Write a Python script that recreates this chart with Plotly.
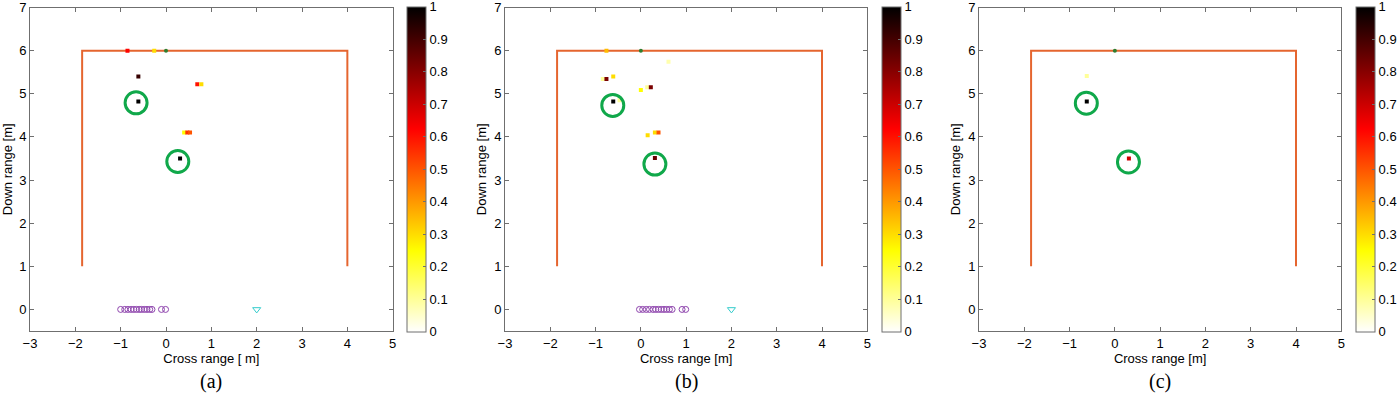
import plotly.graph_objects as go

# ---------------- data ----------------
wall_x = [-1.85, -1.85, 4.0, 4.0]
wall_y = [1.0, 6.0, 6.0, 1.0]

sensor_x = [0.0]
sensor_y = [6.0]

# true target positions (green circles)
a_circ_x = [-0.66, 0.26]
a_circ_y = [4.79, 3.43]
b_circ_x = [-0.62, 0.31]
b_circ_y = [4.73, 3.37]
c_circ_x = [-0.63, 0.30]
c_circ_y = [4.78, 3.42]

# image hot spots: cross range, down range, normalized intensity
a_spot_x = [-0.85, -0.26, -0.61, 0.69, 0.78, -0.61, 0.40, 0.47, 0.53, 0.31]
a_spot_y = [6.00, 6.00, 5.40, 5.22, 5.22, 4.82, 4.10, 4.10, 4.10, 3.50]
a_spot_v = [0.62, 0.30, 0.92, 0.60, 0.30, 1.00, 0.25, 0.55, 0.50, 1.00]

b_spot_x = [-0.76, 0.61, -0.84, -0.76, -0.61, 0.14, 0.22, 0.00, -0.61, -0.47, 0.15, 0.31, 0.39, 0.31]
b_spot_y = [6.00, 5.74, 5.34, 5.34, 5.40, 5.15, 5.15, 5.09, 4.82, 4.85, 4.04, 4.10, 4.10, 3.51]
b_spot_v = [0.35, 0.08, 0.10, 0.82, 0.30, 0.10, 0.82, 0.25, 1.00, 0.10, 0.30, 0.30, 0.50, 0.85]

c_spot_x = [-0.62, -0.62, 0.31]
c_spot_y = [5.41, 4.82, 3.50]
c_spot_v = [0.10, 1.00, 0.70]

# antenna array elements (purple circles) and transmitter (cyan triangle)
a_ant_x = [-1.00, -0.91, -0.84, -0.77, -0.71, -0.65, -0.59, -0.54, -0.48, -0.42, -0.36, -0.31, -0.10, -0.01]
b_ant_x = [-0.03, 0.04, 0.12, 0.19, 0.27, 0.33, 0.39, 0.45, 0.51, 0.57, 0.63, 0.69, 0.91, 0.99]
tx_x = [2.0]
tx_y = [0.0]

x_ticks = [-3, -2, -1, 0, 1, 2, 3, 4, 5]
y_ticks = [0, 1, 2, 3, 4, 5, 6, 7]
cb_ticks = [0, 0.1, 0.2, 0.3, 0.4, 0.5, 0.6, 0.7, 0.8, 0.9, 1]
x_titles = ["Cross range [ m]", "Cross range [m]", "Cross range [m]"]
y_title = "Down range [m]"
panel_labels = ["(a)", "(b)", "(c)"]

# ---------------- styling ----------------
W, H = 1400, 398
FONT = "Liberation Sans, Arial, sans-serif"
AXC = "#6f6f6f"
WALL_C = "#E5652F"
GREEN = "#10A84A"
PURPLE = "#8E44AD"
CYAN = "#33CCCC"
hot_r = [[0, "#ffffff"], [0.25, "#ffff00"], [0.625, "#ff0000"], [1, "#000000"]]

left_px = [30, 505, 979]
right_px = [392.7, 867.3, 1341.3]
cb_left_px = [406.7, 881.7, 1355.7]
top_px, bot_px = 7.5, 331.0

fig = go.Figure()
layout = dict(
    width=W, height=H, margin=dict(l=0, r=0, t=0, b=0, autoexpand=False),
    paper_bgcolor="white", plot_bgcolor="white", showlegend=False,
    font=dict(family=FONT, size=12, color="black"),
)

circ = [(a_circ_x, a_circ_y), (b_circ_x, b_circ_y), (c_circ_x, c_circ_y)]
spots = [(a_spot_x, a_spot_y, a_spot_v), (b_spot_x, b_spot_y, b_spot_v), (c_spot_x, c_spot_y, c_spot_v)]
ants = [a_ant_x, b_ant_x, None]

annotations = []
for i in range(3):
    sfx = "" if i == 0 else str(i + 1)
    xa, ya = "x" + sfx, "y" + sfx
    ca = "coloraxis" + sfx
    # wall
    fig.add_trace(go.Scatter(x=wall_x, y=wall_y, mode="lines", line=dict(color=WALL_C, width=2),
                             xaxis=xa, yaxis=ya, hoverinfo="skip"))
    # hot spots
    sx, sy, sv = spots[i]
    fig.add_trace(go.Scatter(x=sx, y=sy, mode="markers", xaxis=xa, yaxis=ya,
                             marker=dict(symbol="square", size=4, color=sv, coloraxis=ca, line=dict(width=0))))
    # sensor
    fig.add_trace(go.Scatter(x=sensor_x, y=sensor_y, mode="markers", xaxis=xa, yaxis=ya,
                             marker=dict(symbol="circle", size=4, color="#2f7d2f")))
    # green circles
    cx, cy = circ[i]
    fig.add_trace(go.Scatter(x=cx, y=cy, mode="markers", xaxis=xa, yaxis=ya,
                             marker=dict(symbol="circle-open", size=22, color=GREEN, line=dict(width=3, color=GREEN))))
    if ants[i] is not None:
        fig.add_trace(go.Scatter(x=ants[i], y=[0.0] * len(ants[i]), mode="markers", xaxis=xa, yaxis=ya,
                                 marker=dict(symbol="circle-open", size=6, color=PURPLE, line=dict(width=1, color=PURPLE))))
        fig.add_trace(go.Scatter(x=tx_x, y=tx_y, mode="markers", xaxis=xa, yaxis=ya,
                                 marker=dict(symbol="triangle-down-open", size=7, color=CYAN, line=dict(width=1, color=CYAN))))

    axis_common = dict(showline=True, linecolor=AXC, linewidth=1, mirror="ticks", ticks="inside",
                       ticklen=4, tickcolor=AXC, showgrid=False, zeroline=False, automargin=False,
                       tickfont=dict(family=FONT, size=13, color="black"))
    layout["xaxis" + sfx] = dict(axis_common, domain=[left_px[i] / W, right_px[i] / W], range=[-3, 5],
                                 tickvals=x_ticks, anchor=ya,
                                 title=dict(text=x_titles[i], font=dict(family=FONT, size=13), standoff=4))
    layout["yaxis" + sfx] = dict(axis_common, domain=[1 - bot_px / H, 1 - top_px / H], range=[-0.5, 7],
                                 tickvals=y_ticks, anchor=xa,
                                 title=dict(text=y_title, font=dict(family=FONT, size=13), standoff=4))
    layout[ca] = dict(colorscale=hot_r, cmin=0, cmax=1,
                      colorbar=dict(x=cb_left_px[i] / W, xanchor="left", xpad=0, ypad=0,
                                    y=1 - (top_px + bot_px) / 2 / H, yanchor="middle",
                                    lenmode="pixels", len=bot_px - top_px + 1, thickness=19,
                                    outlinecolor=AXC, outlinewidth=1, ticklabeloverflow="allow",
                                    tickvals=cb_ticks, ticks="inside", ticklen=3, tickcolor=AXC,
                                    tickfont=dict(family=FONT, size=13, color="black")))
    annotations.append(dict(text=panel_labels[i], xref="paper", yref="paper",
                            x=(left_px[i] + right_px[i]) / 2 / W, y=1 - 381.5 / H,
                            xanchor="center", yanchor="middle", showarrow=False,
                            font=dict(family="Liberation Serif, Times New Roman, serif", size=20, color="black")))

layout["annotations"] = annotations
fig.update_layout(**layout)
fig.write_html("out.html", config={"displayModeBar": False},
               post_script="document.body.style.margin='0';")
